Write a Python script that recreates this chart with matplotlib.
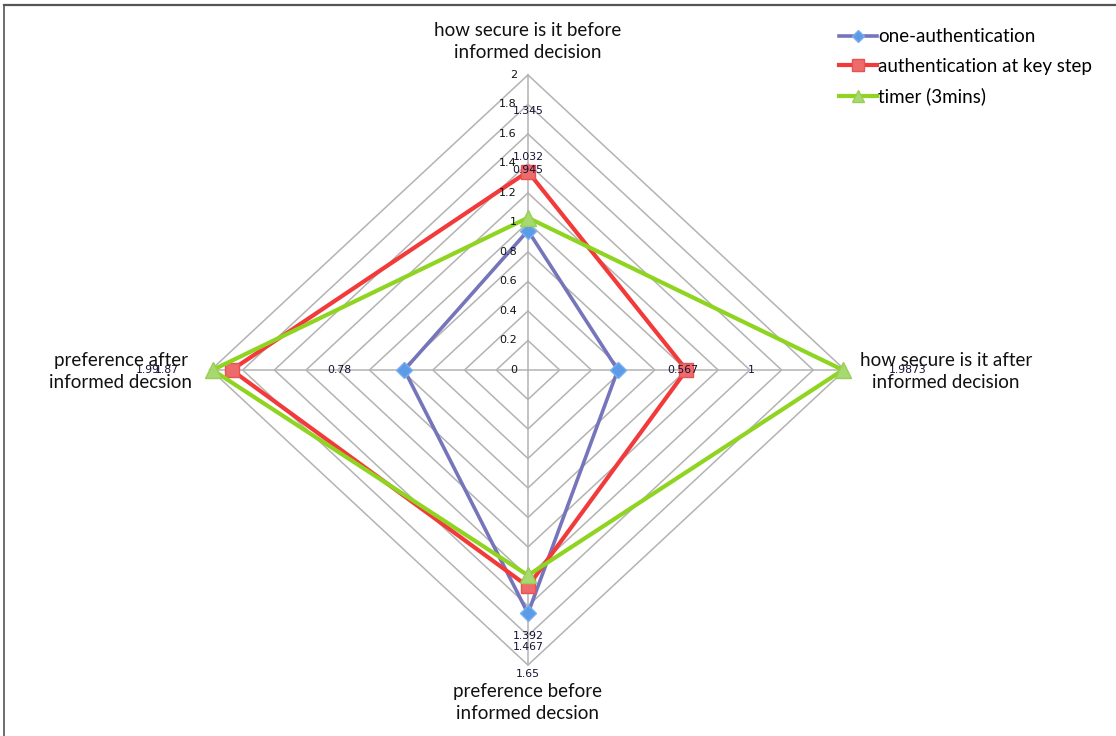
import numpy as np
import matplotlib
matplotlib.use("Agg")
import matplotlib.pyplot as plt
from matplotlib.lines import Line2D

# Radar axes, listed clockwise from the top
axis_labels = [
    "how secure is it before\ninformed decision",
    "how secure is it after\ninformed decision",
    "preference before\ninformed decsion",
    "preference after\ninformed decsion",
]

series_names = ["one-authentication", "authentication at key step", "timer (3mins)"]
one_auth = [0.945, 0.567, 1.65, 0.78]
key_step = [1.345, 1, 1.467, 1.87]
timer_3min = [1.032, 1.9873, 1.392, 1.99]

ring_values = [0.2, 0.4, 0.6, 0.8, 1.0, 1.2, 1.4, 1.6, 1.8, 2.0]
tick_labels = ["0", "0.2", "0.4", "0.6", "0.8", "1", "1.2", "1.4", "1.6", "1.8", "2"]

FONT = ["Lato", "DejaVu Sans"]
plt.rcParams["font.family"] = FONT

fig = plt.figure(figsize=(11.16, 7.36), dpi=100)
ax = fig.add_axes([0, 0, 1, 1])
ax.set_xlim(-3.331, 3.710)
ax.set_ylim(-2.481, 2.508)
ax.axis("off")

# Unit direction of each spoke (top, right, bottom, left)
angles = np.arange(len(axis_labels)) * np.pi / 2
dx = np.sin(angles)
dy = np.cos(angles)

def to_xy(values):
    v = np.asarray(values, dtype=float)
    return v * dx, v * dy

# Grid rings and spokes
grid_color = "#b3b3b3"
for r in ring_values:
    gx, gy = to_xy([r] * 4)
    ax.plot(np.append(gx, gx[0]), np.append(gy, gy[0]), color=grid_color, lw=1.1, zorder=1)
for i in range(4):
    ax.plot([0, 2.0 * dx[i]], [0, 2.0 * dy[i]], color=grid_color, lw=1.1, zorder=1)

# Value ticks along the top spoke
for k, t in enumerate(tick_labels):
    r = 0.2 * k
    ax.text(-0.07, r, t, ha="right", va="center", fontsize=8, color="#111111",
            family=["DejaVu Sans"], zorder=5)

styles = [
    dict(color="#7674bb", lw=2.6, marker="D", ms=8, mfc="#5b9be8", mec="#7aaef0"),
    dict(color="#f23a3a", lw=3.0, marker="s", ms=10, mfc="#ee6b6b", mec="#e65353"),
    dict(color="#8fd420", lw=3.0, marker="^", ms=11, mfc="#a8d870", mec="#98cf55"),
]
data = [one_auth, key_step, timer_3min]

for z, (vals, st, name) in enumerate(zip(data, styles, series_names)):
    x, y = to_xy(vals)
    ax.plot(np.append(x, x[0]), np.append(y, y[0]), color=st["color"], lw=st["lw"],
            zorder=2 + z, solid_joinstyle="miter")
    ax.plot(x, y, ls="none", marker=st["marker"], ms=st["ms"], mfc=st["mfc"],
            mec=st["mec"], mew=1, zorder=2.5 + z)

# Value labels, set a little outward from each point along its spoke
LABEL_OFFSET = 0.41
for vals in data:
    for i, v in enumerate(vals):
        r = v + LABEL_OFFSET
        ax.text(r * dx[i], r * dy[i], f"{v:g}", ha="center", va="center", fontsize=7.8,
                color="#111133", family=["DejaVu Sans"], zorder=6)

# Spoke titles
label_pos = [(0.0, 2.224), (2.637, -0.01), (0.0, -2.254), (-2.568, -0.01)]
for (lx, ly), txt in zip(label_pos, axis_labels):
    ax.text(lx, ly, txt, ha="center", va="center", fontsize=13.5, color="#111111",
            linespacing=1.36, zorder=7)

# Legend
handles = [Line2D([0], [0], color=st["color"], lw=st["lw"], marker=st["marker"],
                  ms=st["ms"] * 0.8, mfc=st["mfc"], mec=st["mec"]) for st in styles]
fig.legend(handles, series_names, loc="upper left", bbox_to_anchor=(0.7455, 0.9715),
           frameon=False, fontsize=13.5, handlelength=2.0, handletextpad=0.05,
           labelspacing=0.66, borderaxespad=0)

# Frame edges along the top and left
fig.add_artist(Line2D([0.0036, 1.0], [0.9935, 0.9935], color="#555555", lw=1.6,
                      transform=fig.transFigure))
fig.add_artist(Line2D([0.0036, 0.0036], [0.0, 0.9935], color="#555555", lw=1.2,
                      transform=fig.transFigure))

fig.savefig("out.png", dpi=100, facecolor="white")
